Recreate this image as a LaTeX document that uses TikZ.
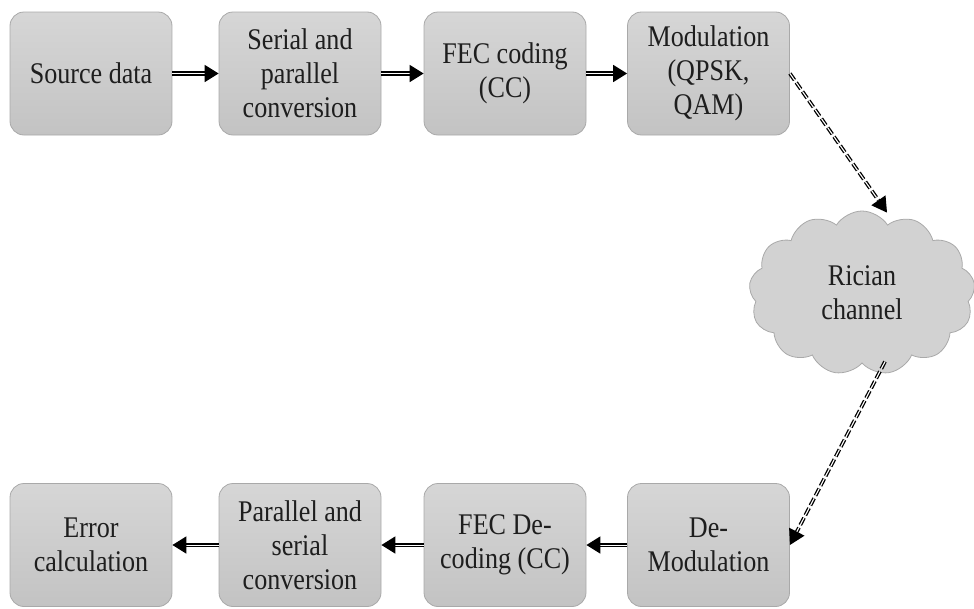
\documentclass[tikz,border=0pt]{standalone}
\usepackage{fontspec}
\setmainfont{Liberation Serif}[FakeStretch=0.87]
\usetikzlibrary{arrows.meta,shapes.symbols}
\definecolor{boxtop}{HTML}{D6D6D6}
\definecolor{boxbot}{HTML}{C3C3C3}
\definecolor{boxline}{HTML}{A9A9A9}
\definecolor{txt}{HTML}{1E1E1E}
\tikzset{
  blk/.style={draw=boxline, line width=0.8pt, rounded corners=14pt,
    top color=boxtop, bottom color=boxbot,
    minimum width=162pt, minimum height=123pt, inner sep=2pt,
    align=center, text=txt, font=\fontsize{30}{34}\selectfont},
  cloudnode/.style={cloud, cloud puffs=13, cloud puff arc=115, aspect=1.4,
    draw=boxline, line width=0.8pt, fill=boxtop!80!boxbot,
    minimum width=226pt, minimum height=164pt, inner sep=2pt,
    align=center, text=txt, font=\fontsize{30}{34}\selectfont},
  flow/.style={double=white, draw=black, line width=1.7pt, double distance=1pt,
    -{Triangle[length=14pt,width=17pt]}},
  dflow/.style={double=white, draw=black, line width=1.3pt, double distance=1.1pt,
    dash pattern=on 8pt off 3pt,
    -{Triangle[length=15pt,width=17pt]}},
}
\begin{document}
\begin{tikzpicture}[x=1pt,y=-1pt]
\useasboundingbox (0,0) rectangle (974,608);
\node[blk] (src) at (91,73.5) {Source data};
\node[blk] (sp) at (300,73.5) {Serial and\\parallel\\conversion};
\node[blk] (fec) at (505,73.5) {FEC coding\\(CC)};
\node[blk] (mod) at (708.5,73.5) {Modulation\\(QPSK,\\QAM)};
\node[cloudnode] (ch) at (862,293) {Rician\\channel};
\node[blk] (err) at (91,545) {Error\\calculation};
\node[blk] (ps) at (300,545) {Parallel and\\serial\\conversion};
\node[blk] (fecd) at (505,545) {FEC De-\\coding (CC)};
\node[blk] (dem) at (708.5,545) {De-\\Modulation};
\draw[flow] (src.east) -- (sp.west);
\draw[flow] (sp.east) -- (fec.west);
\draw[flow] (fec.east) -- (mod.west);
\draw[dflow] (mod.east) -- ([xshift=25pt,yshift=-2pt]ch.north);
\draw[dflow] ([xshift=23pt,yshift=2pt]ch.south) -- (dem.east);
\draw[flow] (dem.west) -- (fecd.east);
\draw[flow] (fecd.west) -- (ps.east);
\draw[flow] (ps.west) -- (err.east);
\end{tikzpicture}
\end{document}
